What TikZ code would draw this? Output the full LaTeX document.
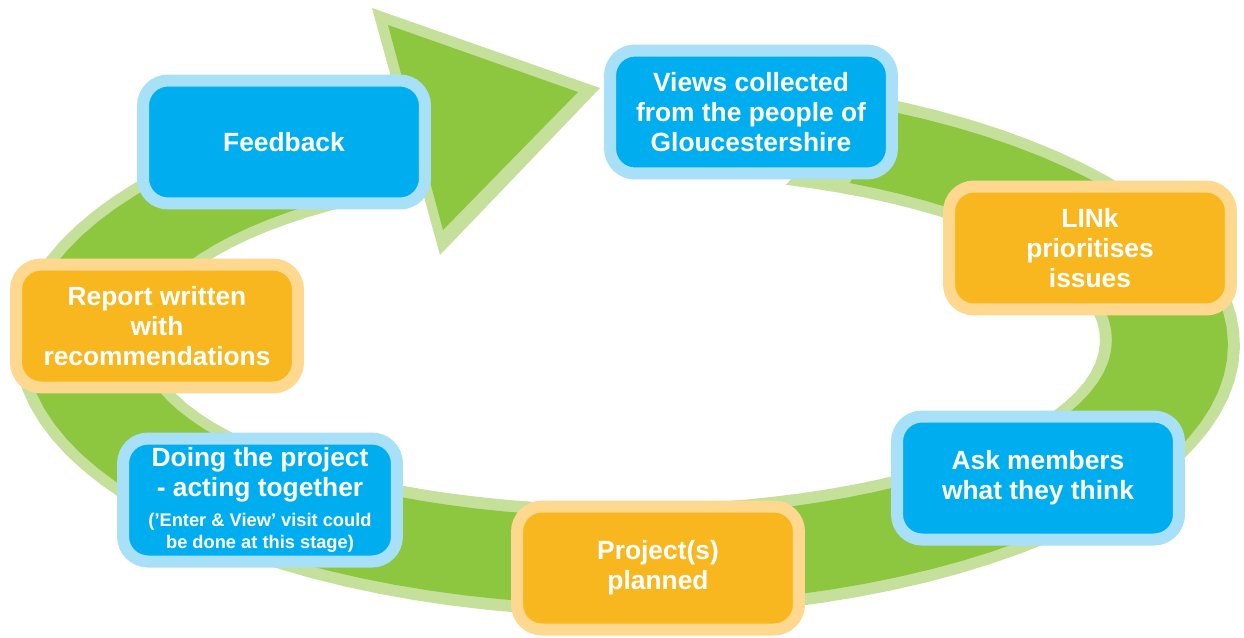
\documentclass[tikz,border=0pt]{standalone}
\usepackage{fontspec}
\setmainfont{Liberation Sans}
\usetikzlibrary{positioning}

\definecolor{ringdark}{HTML}{8DC63F}
\definecolor{ringlight}{HTML}{C5E09B}
\definecolor{bluedark}{HTML}{00AEEF}
\definecolor{bluelight}{HTML}{A8E0F8}
\definecolor{orangedark}{HTML}{F8B71E}
\definecolor{orangelight}{HTML}{FED88E}

\begin{document}
\begin{tikzpicture}[x=0.02cm, y=-0.02cm,
    stage/.style={rounded corners=0.5cm, line width=0.24cm,
      minimum width=5.64cm, minimum height=2.46cm, align=center,
      text=white, font=\fontsize{15}{17}\selectfont\bfseries},
    bluestage/.style={stage, draw=bluelight, fill=bluedark},
    orangestage/.style={stage, draw=orangelight, fill=orangedark}
  ]
  \useasboundingbox (0,0) rectangle (1244,637);

  % ring and arrow, light edge first
  \fill[ringlight]
    plot[domain=-66.6:248.3, samples=90] ({627+613*cos(\x)},{345+272*sin(\x)})
    -- plot[domain=246:-70.2, samples=90] ({625+475*cos(\x)},{340+165*sin(\x)})
    -- cycle;
  \fill[ringlight] (372,8) -- (600,88) -- (440,255) -- cycle;
  \fill[ringdark]
    plot[domain=-64:250.7, samples=90] ({627+601*cos(\x)},{345+260*sin(\x)})
    -- plot[domain=247.3:-62.5, samples=90] ({625+487*cos(\x)},{340+177*sin(\x)})
    -- cycle;
  \fill[ringdark] (388,25) -- (578,92) -- (443,230) -- cycle;

  % stages
  \node[bluestage] (views) at (751,112) {Views collected\\from the people of\\Gloucestershire};
  \node[orangestage] (link) at (1090,248) {LINk\\prioritises\\issues};
  \node[bluestage] (ask) at (1038,478) {Ask members\\what they think};
  \node[orangestage] (planned) at (658,568) {Project(s)\\planned};
  \node[bluestage, minimum width=5.48cm] (doing) at (260,500)
    {Doing the project\\- acting together\\{\fontsize{10.4}{12.5}\selectfont (’Enter \& View’ visit could}\\[-4.5pt]{\fontsize{10.4}{12.5}\selectfont be done at this stage)}};
  \node[orangestage] (report) at (157,326) {Report written\\with\\recommendations};
  \node[bluestage] (feedback) at (284,142) {Feedback};
\end{tikzpicture}
\end{document}
